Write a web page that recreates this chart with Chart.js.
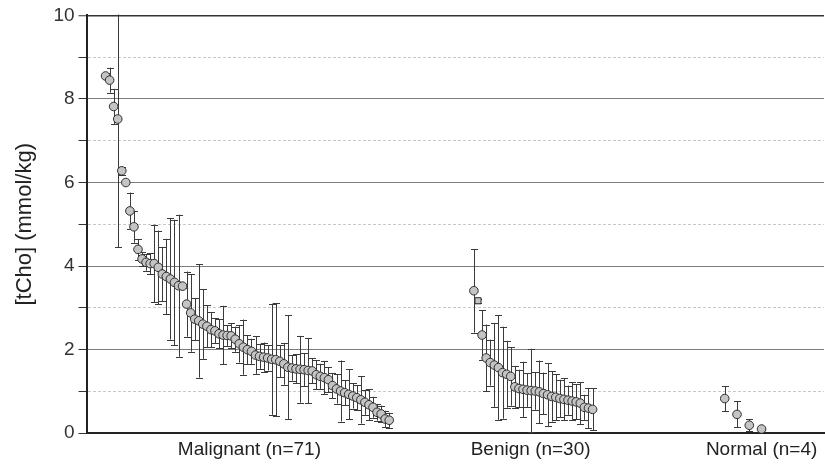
<!DOCTYPE html>
<html>
<head>
<meta charset="utf-8">
<script src="https://cdn.jsdelivr.net/npm/chart.js@4/dist/chart.umd.min.js"></script>
<style>
  html, body { margin: 0; padding: 0; background: #fff; }
  #wrap { width: 825px; height: 470px; }
</style>
</head>
<body>
<div id="wrap"><canvas id="myChart"></canvas></div>
<script>
// group labels on the x axis
const groupLabels = ['Malignant (n=71)', 'Benign (n=30)', 'Normal (n=4)'];

// [tCho] values (mmol/kg) and error bars, sorted as in the figure
const malignantValues = [8.55, 8.45, 7.82, 7.52, 6.28, 6.00, 5.32, 4.94, 4.40, 4.17,
    4.09, 4.06, 4.06, 3.97, 3.81, 3.75, 3.69, 3.61, 3.53, 3.52,
    3.09, 2.88, 2.73, 2.69, 2.61, 2.56, 2.48, 2.45, 2.38, 2.35,
    2.34, 2.33, 2.25, 2.14, 2.06, 2.00, 1.96, 1.87, 1.84, 1.82,
    1.80, 1.77, 1.76, 1.72, 1.66, 1.58, 1.56, 1.54, 1.53, 1.52,
    1.50, 1.49, 1.40, 1.36, 1.33, 1.28, 1.14, 1.06, 1.01, 0.97,
    0.93, 0.89, 0.85, 0.80, 0.74, 0.68, 0.62, 0.50, 0.46, 0.34, 0.31];
const malignantErrors = [0.08, 0.30, 0.42, 3.07, 0.10, 0.03, 0.44, 0.38, 0.25, 0.16,
    0.20, 0.25, 0.93, 0.88, 0.65, 0.90, 1.45, 1.50, 1.70, 0.05,
    0.78, 0.93, 0.50, 1.36, 0.83, 0.50, 0.42, 0.30, 0.35, 0.70,
    0.25, 0.30, 0.30, 0.45, 0.66, 0.35, 0.30, 0.45, 0.30, 0.35,
    0.30, 1.33, 1.35, 0.38, 0.50, 1.25, 0.30, 0.35, 0.80, 0.40,
    0.78, 0.30, 0.35, 0.30, 0.40, 0.30, 0.30, 0.35, 0.73, 0.30,
    0.60, 0.30, 0.30, 0.57, 0.30, 0.37, 0.25, 0.20, 0.20, 0.20, 0.18];

const benignValues = [3.41, 3.17, 2.35, 1.80, 1.69, 1.63, 1.57, 1.45, 1.41, 1.36,
    1.11, 1.07, 1.05, 1.03, 1.02, 1.01, 0.99, 0.95, 0.92, 0.88,
    0.86, 0.83, 0.81, 0.79, 0.77, 0.75, 0.72, 0.62, 0.60, 0.57];
const benignErrors = [1.00, 0.05, 0.60, 0.80, 0.55, 1.00, 1.25, 1.10, 0.80, 0.70,
    0.50, 0.45, 0.66, 0.40, 1.00, 0.45, 0.75, 0.50, 0.75, 0.60,
    0.55, 0.45, 0.50, 0.35, 0.45, 0.42, 0.50, 0.30, 0.48, 0.50];

const normalValues = [0.83, 0.45, 0.19, 0.10];
const normalErrors = [0.30, 0.31, 0.14, 0.03];

const yTicks = [0, 2, 4, 6, 8, 10];

// where each group sits along the x axis (sample slots)
const groupStart = [4.7, 95.6, 157.5];
const groupStep = [1, 1.01, 3.03];
const groupCenters = [40.2, 109.6, 166.6];

const toPoints = (values, errors, g) => values.map((v, i) => ({
    x: groupStart[g] + i * groupStep[g], y: v, err: errors[i]
}));

const errorBars = {
    id: 'errorBars',
    beforeDatasetsDraw(chart) {
        const ctx = chart.ctx;
        const xs = chart.scales.x, ys = chart.scales.y;
        const area = chart.chartArea;
        ctx.save();
        ctx.beginPath();
        ctx.rect(area.left, area.top - 1, area.right - area.left, area.bottom - area.top + 1);
        ctx.clip();
        ctx.strokeStyle = '#3a3a3a';
        ctx.lineWidth = 1;
        chart.data.datasets.forEach(ds => {
            ds.data.forEach(p => {
                const px = Math.round(xs.getPixelForValue(p.x)) + 0.5;
                const top = ys.getPixelForValue(p.y + p.err);
                const bot = ys.getPixelForValue(p.y - p.err);
                ctx.beginPath();
                ctx.moveTo(px, top); ctx.lineTo(px, bot);
                ctx.moveTo(px - 3.5, Math.round(top) + 0.5); ctx.lineTo(px + 3.5, Math.round(top) + 0.5);
                ctx.moveTo(px - 3.5, Math.round(bot) + 0.5); ctx.lineTo(px + 3.5, Math.round(bot) + 0.5);
                ctx.stroke();
            });
        });
        ctx.restore();
    }
};

const pointStyle = {
    backgroundColor: '#c4c4c4',
    borderColor: '#2e2e2e',
    borderWidth: 1,
    pointRadius: 4.3,
    showLine: false
};

const fontFamily = 'Arial, "Liberation Sans", sans-serif';

let ctx = document.getElementById('myChart').getContext('2d');
let myChart = new Chart(ctx, {
    type: 'scatter',
    data: {
        datasets: [
            Object.assign({ label: groupLabels[0], data: toPoints(malignantValues, malignantErrors, 0) }, pointStyle),
            Object.assign({ label: groupLabels[1], data: toPoints(benignValues, benignErrors, 1),
                pointStyle: benignValues.map((v, i) => i === 1 ? 'rect' : 'circle') }, pointStyle),
            Object.assign({ label: groupLabels[2], data: toPoints(normalValues, normalErrors, 2) }, pointStyle)
        ]
    },
    options: {
        responsive: true,
        maintainAspectRatio: false,
        animation: false,
        layout: { autoPadding: false, padding: { top: 7, right: 1, left: 8, bottom: 4 } },
        plugins: {
            legend: { display: false },
            tooltip: { enabled: false }
        },
        scales: {
            x: {
                type: 'linear',
                min: 0,
                max: 182,
                afterBuildTicks: (scale) => { scale.ticks = groupCenters.map(v => ({ value: v })); },
                ticks: {
                    autoSkip: false,
                    maxRotation: 0,
                    padding: 5,
                    color: '#222',
                    font: { family: fontFamily, size: 19 },
                    callback: (v, i) => groupLabels[i]
                },
                grid: { display: true, drawOnChartArea: false, drawTicks: false },
                border: { color: '#222', width: 2 }
            },
            y: {
                min: 0,
                max: 10,
                afterBuildTicks: (scale) => {
                    scale.ticks = [0, 1, 2, 3, 4, 5, 6, 7, 8, 9, 10].map(v => ({ value: v }));
                },
                ticks: {
                    padding: 4,
                    color: '#333',
                    font: { family: fontFamily, size: 19 },
                    callback: (v) => yTicks.includes(v) ? v : ''
                },
                grid: {
                    color: (c) => {
                        if (!c.tick) return '#888';
                        if (c.tick.value === 10) return '#333';
                        return c.tick.value % 2 === 0 ? '#7e7e7e' : '#c8c8c8';
                    },
                    lineWidth: (c) => (c.tick && c.tick.value === 10) ? 1.5 : 1,
                    tickColor: '#333',
                    tickLength: 8,
                    tickBorderDash: [],
                    tickWidth: 1
                },
                border: {
                    color: '#222',
                    width: 2,
                    dash: (c) => (c.tick && c.tick.value % 2 === 1) ? [3, 2] : []
                },
                title: {
                    display: true,
                    text: '[tCho] (mmol/kg)',
                    color: '#222',
                    padding: { top: 4, bottom: 11 },
                    font: { family: fontFamily, size: 22 }
                }
            }
        }
    },
    plugins: [errorBars]
});
</script>
</body>
</html>
